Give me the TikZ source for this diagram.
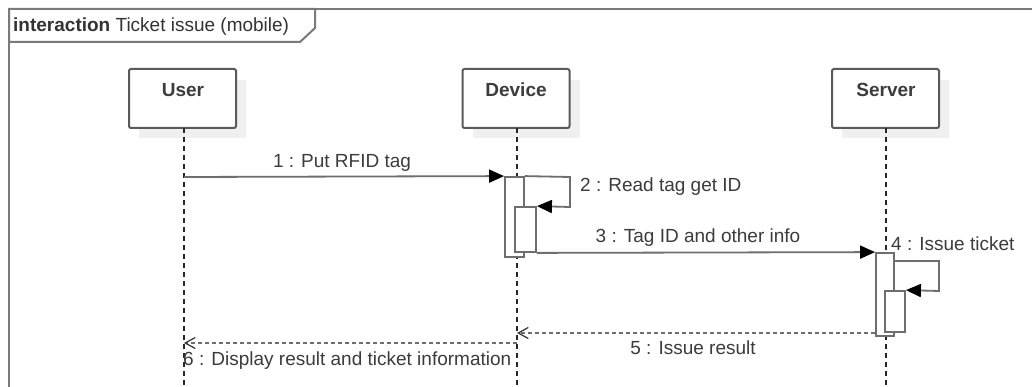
\documentclass[tikz,border=0pt]{standalone}
\usepackage{fontspec}
\setmainfont{Liberation Sans}
\usetikzlibrary{arrows.meta}
\definecolor{framegray}{HTML}{7A7A7A}
\definecolor{boxgray}{HTML}{5A5A5A}
\definecolor{linegray}{HTML}{6E6E6E}
\definecolor{textgray}{HTML}{3C3C3C}
\definecolor{shadowgray}{HTML}{F0F0F0}
\tikzset{
  lifebox/.style={draw=boxgray, line width=2pt, fill=white, rounded corners=2pt,
    minimum width=107pt, minimum height=59pt, inner sep=0pt},
  boxshadow/.style={fill=shadowgray},
  lifeline/.style={line width=1.4pt, dash pattern=on 5pt off 4pt, black!85},
  actbar/.style={draw=linegray, line width=1.8pt, fill=white, inner sep=0pt},
  callmsg/.style={line width=1.8pt, draw=linegray,
    -{Triangle[length=15pt,width=13pt,fill=black,color=black]}},
  replymsg/.style={line width=1.6pt, draw=linegray, dash pattern=on 4pt off 3pt,
    -{Straight Barb[length=10pt,width=11pt,line width=1.2pt,color=black!80]}},
  msglabel/.style={font=\fontsize{19}{22}\selectfont, text=textgray, inner sep=0pt},
}
\begin{document}
\begin{tikzpicture}[x=1pt, y=-1pt]
\useasboundingbox (0,0) rectangle (1032,387);
\fill[white] (0,0) rectangle (1032,387);

% interaction frame and its name tab
\draw[framegray, line width=2pt] (1040,9) -- (9,9) -- (9,395);
\draw[framegray, line width=2pt] (9,9) -- (315,9) -- (315,28) -- (300,42) -- (9,42) -- cycle;
\node[msglabel, anchor=base west, text=black!80] (title) at (13,32)
  {\textbf{interaction} Ticket issue (mobile)};

% lifeline heads with drop shadows
\foreach \cx/\nm in {182.5/User, 516/Device, 885.5/Server}{
  \fill[boxgray!0, boxshadow] (\cx-43.5,80) rectangle (\cx+63.5,138);
}
\node[lifebox] (user) at (182.5,98.5) {};
\node[lifebox] (device) at (516,98.5) {};
\node[lifebox] (server) at (885.5,98.5) {};
\node[msglabel, anchor=base, font=\fontsize{19}{22}\selectfont\bfseries] (userlbl) at (183,97) {User};
\node[msglabel, anchor=base, font=\fontsize{19}{22}\selectfont\bfseries] (devlbl) at (516,97) {Device};
\node[msglabel, anchor=base, font=\fontsize{19}{22}\selectfont\bfseries] (srvlbl) at (886,97) {Server};

% lifelines
\coordinate (userend) at (184,390);
\coordinate (devend) at (517,390);
\coordinate (srvend) at (886,390);
\draw[lifeline] (184,128) -- (userend);
\draw[lifeline] (517,128) -- (devend);
\draw[lifeline] (886,128) -- (srvend);

% activation bars on Device
\node[actbar, minimum width=19pt, minimum height=80pt] (devact) at (514.5,217) {};
\node[actbar, minimum width=21pt, minimum height=45pt] (devself) at (525.5,229.5) {};
% activation bars on Server
\node[actbar, minimum width=18pt, minimum height=83pt] (srvact) at (885,294.5) {};
\node[actbar, minimum width=20pt, minimum height=41pt] (srvself) at (895,311.5) {};

% message anchor points on the lifelines
\coordinate (u1) at (184,177);
\coordinate (d5) at (517,333);
\coordinate (d6) at (517,343);
\coordinate (u6) at (184,343);
\coordinate (loopA) at (570,177);
\coordinate (loopB) at (570,207);
\coordinate (loopC) at (939,261);
\coordinate (loopD) at (939,291);

% 1 : Put RFID tag
\draw[callmsg] (u1) -- (devact.north west);
\node[msglabel, anchor=base] (m1) at (342,168) {1 : Put RFID tag};

% 2 : Read tag get ID (self call)
\draw[callmsg] (devact.north east) -- (loopA) -- (loopB) -- (devself.north east);
\node[msglabel, anchor=base west] (m2) at (580,192) {2 : Read tag get ID};

% 3 : Tag ID and other info
\draw[callmsg] (devself.south east) -- (srvact.north west);
\node[msglabel, anchor=base] (m3) at (698,243) {3 : Tag ID and other info};

% 4 : Issue ticket (self call)
\draw[callmsg] (srvact.east |- 0,261) -- (loopC) -- (loopD) -- (srvself.north east);
\node[msglabel, anchor=base west] (m4) at (891,251) {4 : Issue ticket};

% 5 : Issue result
\draw[replymsg] (srvact.west |- 0,333) -- (d5);
\node[msglabel, anchor=base] (m5) at (693,354) {5 : Issue result};

% 6 : Display result and ticket information
\draw[replymsg] (d6) -- (u6);
\node[msglabel, anchor=base west] (m6) at (183,365) {6 : Display result and ticket information};
\end{tikzpicture}
\end{document}
